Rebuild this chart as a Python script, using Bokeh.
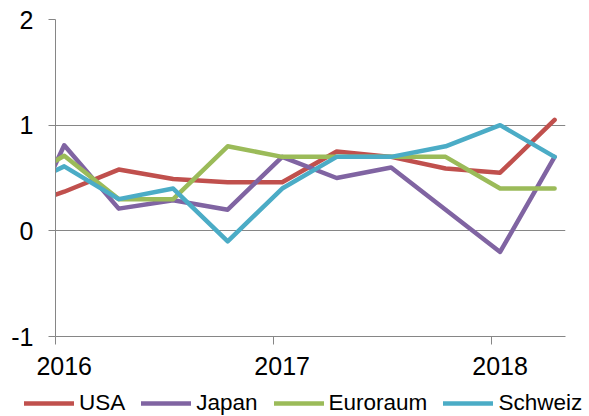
from bokeh.plotting import figure
from bokeh.models import Range1d, FixedTicker, NumeralTickFormatter, Legend, LegendItem
from bokeh.embed import file_html
from bokeh.resources import INLINE

# quarterly observations (fractional years), first one lies left of the visible range
x_years = [2015.79, 2016.04, 2016.29, 2016.54, 2016.79, 2017.04, 2017.29, 2017.54, 2017.79, 2018.04, 2018.29]
usa = [0.19, 0.37, 0.58, 0.49, 0.46, 0.46, 0.75, 0.70, 0.59, 0.55, 1.05]
japan = [-0.30, 0.81, 0.21, 0.29, 0.20, 0.70, 0.50, 0.60, 0.20, -0.20, 0.70]
euroraum = [0.41, 0.71, 0.30, 0.30, 0.80, 0.70, 0.70, 0.70, 0.70, 0.40, 0.40]
schweiz = [0.37, 0.61, 0.30, 0.40, -0.10, 0.40, 0.70, 0.70, 0.80, 1.00, 0.70]

series_names = ["USA", "Japan", "Euroraum", "Schweiz"]
series_values = [usa, japan, euroraum, schweiz]
colors = ["#C0504D", "#8064A2", "#9BBB59", "#4BACC6"]

year_ticks = [2016, 2017, 2018]
y_ticks = [-1, 0, 1, 2]
# year labels sit at the first observation of each year
label_ticks = [x for x in x_years if int(x) in year_ticks and x - int(x) < 0.25]

FONT = "Liberation Sans"
GRAY = "#868686"
LW = 4.5

p = figure(width=589, height=380, output_backend="svg", toolbar_location=None,
           x_range=Range1d(2016, 2018.34), y_range=Range1d(-1, 2),
           min_border_left=55, min_border_right=24, min_border_top=19, min_border_bottom=44)
p.outline_line_color = None
p.background_fill_color = "white"
p.border_fill_color = "white"

p.xgrid.grid_line_color = None
p.ygrid.grid_line_color = GRAY
p.ygrid.grid_line_width = 1
p.ygrid.ticker = FixedTicker(ticks=y_ticks)

yax = p.yaxis[0]
yax.ticker = FixedTicker(ticks=y_ticks)
yax.formatter = NumeralTickFormatter(format="0")
yax.axis_line_color = GRAY
yax.major_tick_line_color = GRAY
yax.major_tick_out = 7
yax.major_tick_in = 0
yax.minor_tick_line_color = None
yax.major_label_standoff = 15
yax.major_label_text_font = FONT
yax.major_label_text_font_size = "25px"
yax.major_label_text_color = "black"

xax = p.xaxis[0]
xax.ticker = FixedTicker(ticks=label_ticks, minor_ticks=year_ticks)
xax.formatter = NumeralTickFormatter(format="0")
xax.axis_line_color = GRAY
xax.major_tick_line_color = None
xax.major_tick_out = 8
xax.major_tick_in = 0
xax.minor_tick_line_color = GRAY
xax.minor_tick_out = 8
xax.minor_tick_in = 0
xax.major_label_standoff = 12
xax.major_label_text_font = FONT
xax.major_label_text_font_size = "25px"
xax.major_label_text_color = "black"

for vals, col in zip(series_values, colors):
    p.line(x_years, vals, line_color=col, line_width=LW,
           line_join="round", line_cap="round")

# legend strip below the chart (separate root so its frame spans the full width)
pl = figure(width=589, height=36, output_backend="svg", toolbar_location=None,
            x_range=Range1d(0, 1), y_range=Range1d(0, 1),
            x_axis_location=None, y_axis_location=None, min_border=0)
pl.outline_line_color = None
pl.background_fill_color = "white"
pl.border_fill_color = "white"
pl.grid.visible = False
items = []
for name, col in zip(series_names, colors):
    r = pl.line([float("nan")], [float("nan")], line_color=col, line_width=LW, line_cap="round")
    items.append(LegendItem(label=name, renderers=[r]))

legend = Legend(items=items, location=(24, 0), orientation="horizontal",
                border_line_color=None, background_fill_alpha=0,
                padding=0, margin=0, spacing=16, glyph_width=50, glyph_height=20,
                label_standoff=5, label_text_font=FONT, label_text_font_size="22.5px",
                label_text_color="black")
pl.add_layout(legend)

open("out.html", "w").write(file_html([p, pl], INLINE))
